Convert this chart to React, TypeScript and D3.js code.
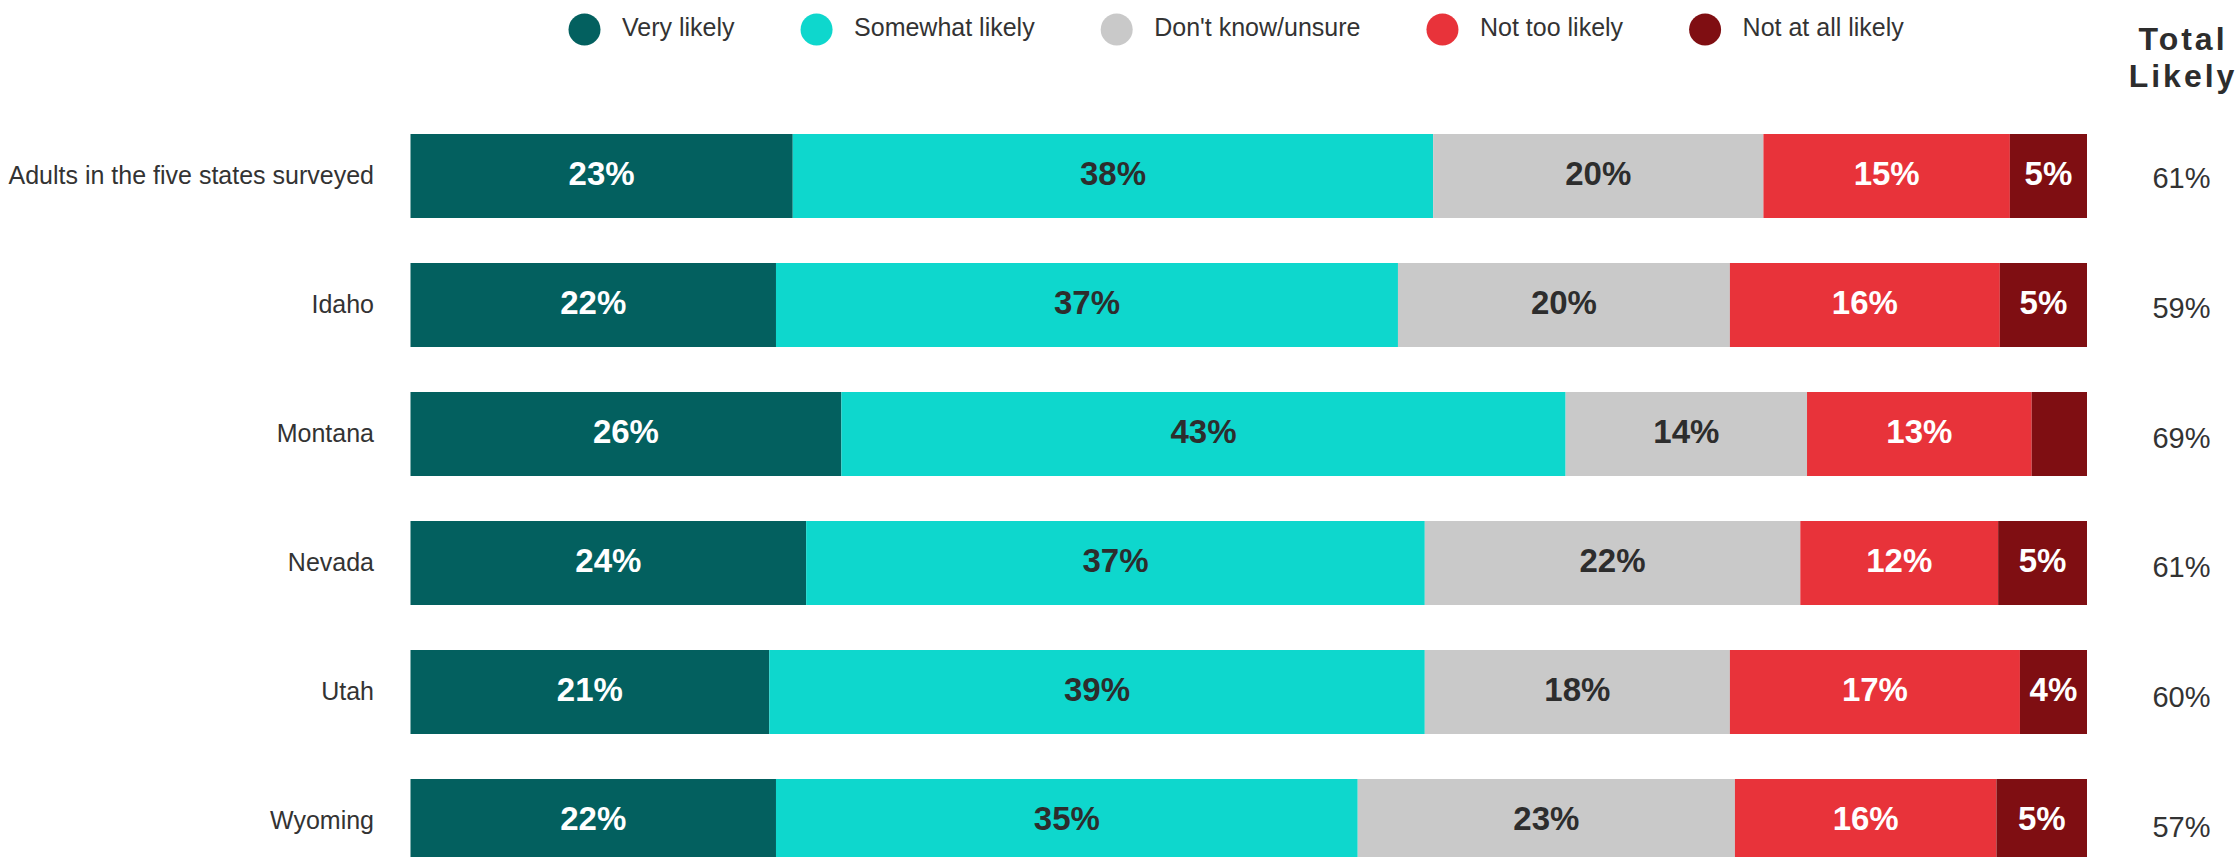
import React, { useEffect, useRef } from "react";
import * as d3 from "d3";

const categories = [
  "Adults in the five states surveyed",
  "Idaho",
  "Montana",
  "Nevada",
  "Utah",
  "Wyoming",
];
const seriesNames = [
  "Very likely",
  "Somewhat likely",
  "Don't know/unsure",
  "Not too likely",
  "Not at all likely",
];
const veryLikely = [22.8, 21.8, 25.7, 23.6, 21.4, 21.8];
const somewhatLikely = [38.2, 37.1, 43.2, 36.9, 39.1, 34.7];
const dontKnow = [19.7, 19.8, 14.4, 22.4, 18.2, 22.5];
const notTooLikely = [14.7, 16.1, 13.4, 11.8, 17.3, 15.6];
const notAtAll = [4.6, 5.2, 3.3, 5.3, 4.0, 5.4];
const totalLikely = [61, 59, 69, 61, 60, 57];

const colors = ["#03605F", "#0ED7CD", "#C9C9C9", "#E8333A", "#7F0E12"];
const labelColors = ["#ffffff", "#2d2d2d", "#2d2d2d", "#ffffff", "#ffffff"];
const FONT = "'Liberation Sans', Arial, Helvetica, sans-serif";

export default function App() {
  const ref = useRef<SVGSVGElement>(null);

  useEffect(() => {
    const svg = d3.select(ref.current);
    svg.selectAll("*").remove();

    const series = [veryLikely, somewhatLikely, dontKnow, notTooLikely, notAtAll];
    const rows = categories.map((c, i) => {
      const o: any = { category: c };
      seriesNames.forEach((s, j) => (o[s] = series[j][i]));
      return o;
    });
    const stacked = d3.stack().keys(seriesNames)(rows);

    const x = d3.scaleLinear().domain([0, 100]).range([410.5, 2087]);
    const y = d3
      .scaleBand()
      .domain(categories)
      .range([134, 134 + 129 * (categories.length - 45 / 129)])
      .paddingInner(45 / 129)
      .paddingOuter(0);

    const g = svg.append("g");
    stacked.forEach((layer, j) => {
      const lg = g.append("g");
      lg.selectAll("rect")
        .data(layer)
        .join("rect")
        .attr("x", (d) => x(d[0]))
        .attr("y", (d: any) => y(d.data.category)!)
        .attr("width", (d) => x(d[1]) - x(d[0]))
        .attr("height", y.bandwidth())
        .attr("fill", colors[j]);
      lg.selectAll("text")
        .data(layer.filter((d) => d[1] - d[0] >= 3.5))
        .join("text")
        .attr("x", (d) => (x(d[0]) + x(d[1])) / 2)
        .attr("y", (d: any) => y(d.data.category)! + y.bandwidth() / 2 + 9)
        .attr("text-anchor", "middle")
        .attr("font-family", FONT)
        .attr("font-weight", "bold")
        .attr("font-size", 33)
        .attr("fill", labelColors[j])
        .text((d) => `${Math.round(d[1] - d[0])}%`);
    });

    // category labels
    g.append("g")
      .selectAll("text")
      .data(categories)
      .join("text")
      .attr("x", 374)
      .attr("y", (d) => y(d)! + y.bandwidth() / 2 + 8)
      .attr("text-anchor", "end")
      .attr("font-family", FONT)
      .attr("font-size", 25)
      .attr("fill", "#333333")
      .text((d) => d);

    // total likely values
    g.append("g")
      .selectAll("text")
      .data(totalLikely)
      .join("text")
      .attr("x", 2181.5)
      .attr("y", (d, i) => y(categories[i])! + y.bandwidth() / 2 + 12 + i * 0.8)
      .attr("text-anchor", "middle")
      .attr("font-family", FONT)
      .attr("font-size", 29)
      .attr("fill", "#333333")
      .text((d) => `${d}%`);

    // header
    const header = svg
      .append("text")
      .attr("text-anchor", "middle")
      .attr("font-family", FONT)
      .attr("font-weight", "bold")
      .attr("font-size", 32)
      .attr("letter-spacing", 3)
      .attr("fill", "#2d2d2d");
    header.append("tspan").attr("x", 2183).attr("y", 50).text("Total");
    header.append("tspan").attr("x", 2183).attr("y", 86.5).text("Likely");

    // legend
    const legend = svg.append("g");
    let cx = 568.5;
    seriesNames.forEach((name, j) => {
      legend
        .append("circle")
        .attr("cx", cx + 16)
        .attr("cy", 29.5)
        .attr("r", 16)
        .attr("fill", colors[j]);
      const t = legend
        .append("text")
        .attr("x", cx + 53.5)
        .attr("y", 36)
        .attr("font-family", FONT)
        .attr("font-size", 25)
        .attr("fill", "#333333")
        .text(name);
      const w = (t.node() as SVGTextElement).getComputedTextLength();
      cx = cx + 53.5 + w + 66;
    });
  }, []);

  return (
    <svg
      ref={ref}
      width={2237}
      height={857}
      style={{ position: "absolute", left: 0, top: 0, background: "#ffffff" }}
    />
  );
}
